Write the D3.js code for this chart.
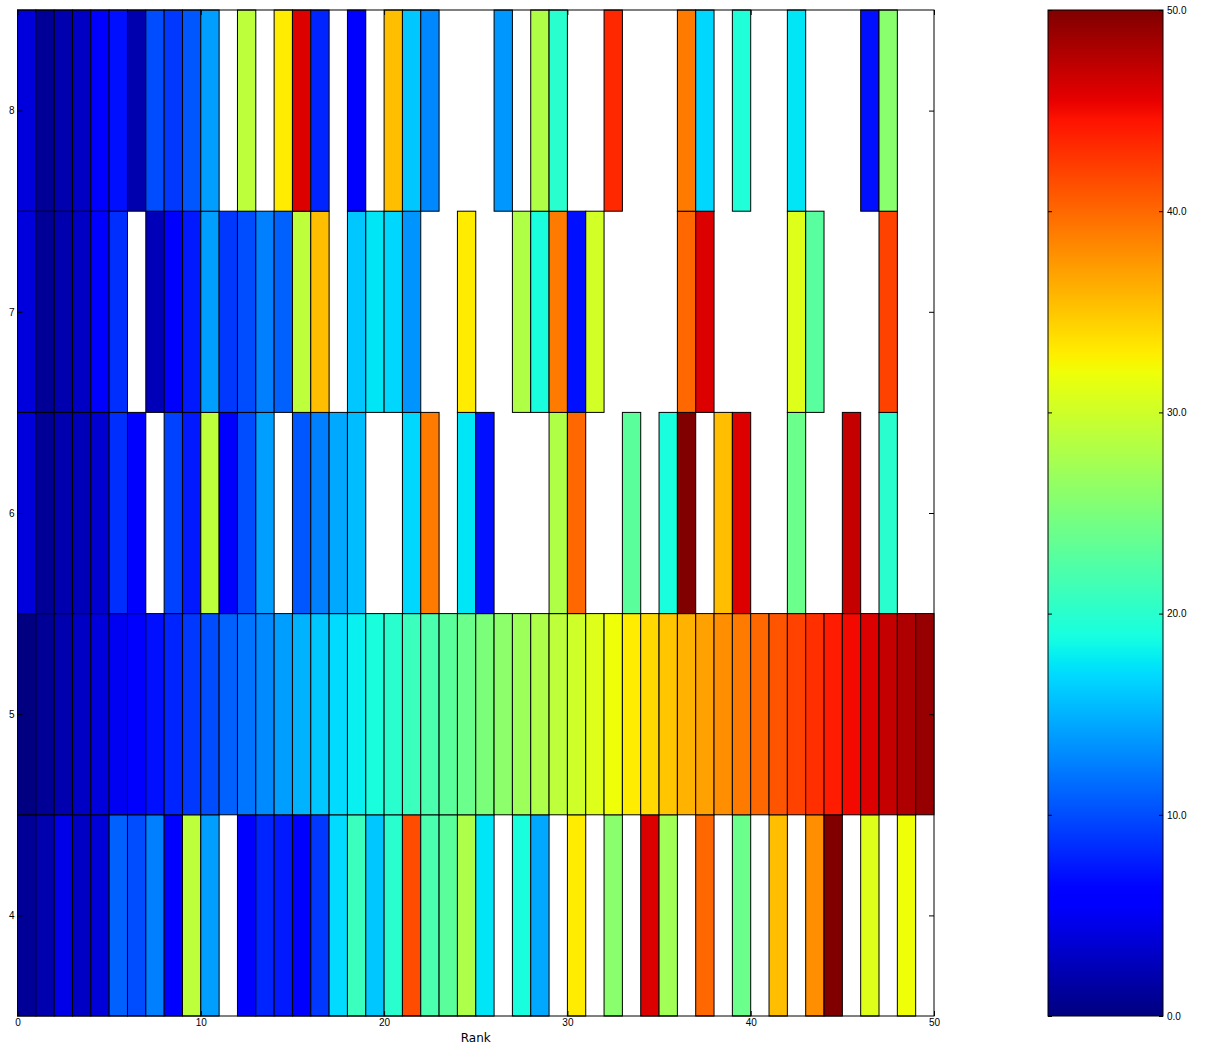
<!DOCTYPE html>
<html>
<head>
<meta charset="utf-8">
<script src="https://cdn.jsdelivr.net/npm/d3@7/dist/d3.min.js"></script>
<style>
  html, body { margin: 0; padding: 0; background: #fff; }
  svg { display: block; font-family: "DejaVu Sans", sans-serif; }
  .axis text { font-size: 10px; fill: #000; }
  .axis path, .axis line { stroke: #000; }
</style>
</head>
<body>
<svg id="chart" width="1208" height="1050"></svg>
<script>
// Rows of the grid (y value of each row) and the number of ranks along x
const rows = [4, 5, 6, 7, 8];
const ranks = d3.range(50);

// Cell values per row; null = no entry (left blank)
const row4 = [1, 2, 4.5, 3, 3.8, 11, 10, 12.5, 6, 29, 14, null, 5.5, 8, 7.5, 6.2, 9, 17, 21, 16,
  20, 41.5, 22, 23, 28, 17.5, null, 19, 14.5, null, 33, null, 25.8, null, 46, 27.3, null, 40, null, 24,
  null, 35.4, null, 38, 50, null, 31, null, 32, null];
const row5 = [0, 1, 2, 3, 4, 5, 6, 7, 8, 9, 10, 11, 12, 13, 14, 15, 16, 17, 18, 19,
  20, 21, 22, 23, 24, 25, 26, 27, 28, 29, 30, 31, 32, 33, 34, 35, 36, 37, 38, 39,
  40, 41, 42, 43, 44, 45, 46, 47, 48, 49];
const row6 = [4, 1, 2, 2.5, 3.5, 8.5, 6, null, 9.5, 7.5, 29, 5.5, 10, 14, null, 10.5, 12.5, 14.5, 15.5, null,
  null, 16.8, 39, null, 17.5, 7, null, null, null, 28.2, 40, null, null, 23, null, 19, 50, null, 35.4, 46,
  null, null, 24, null, null, 47, null, 20, null, null];
const row7 = [4, 1, 2, 3, 6, 8.5, null, 2.5, 5.5, 7.5, 14, 9, 10, 12.5, 11, 29, 35.4, null, 16, 17.5,
  16.8, 13.5, null, null, 33, null, null, 28.2, 19, 39, 7, 30.2, null, null, null, null, 40, 46, null, null,
  null, null, 31, 22.9, null, null, null, 42, null, null];
const row8 = [4, 1, 2, 3, 6, 7, 2, 10, 9, 10.5, 14, null, 29, null, 33, 46, 8, null, 5.5, null,
  35.4, 16, 12.9, null, null, null, 13.7, null, 28.2, 20, null, null, 43.4, null, null, null, 39, 16.8, null, 19.4,
  null, null, 17.5, null, null, null, 7, 25.8, null, null];

const xTicks = [0, 10, 20, 30, 40, 50];
const cbarTicks = [0, 10, 20, 30, 40, 50];
const valueDomain = [0, 50];

const rowValues = [row4, row5, row6, row7, row8];

// Jet colormap (piecewise-linear channels)
const jetR = [[0, 0], [0.35, 0], [0.66, 1], [0.89, 1], [1, 0.5]];
const jetG = [[0, 0], [0.125, 0], [0.375, 1], [0.64, 1], [0.91, 0], [1, 0]];
const jetB = [[0, 0.5], [0.11, 1], [0.34, 1], [0.65, 0], [1, 0]];
function channel(pts, t) {
  for (let i = 1; i < pts.length; i++) {
    if (t <= pts[i][0]) {
      const [t0, v0] = pts[i - 1], [t1, v1] = pts[i];
      return v0 + (v1 - v0) * (t - t0) / (t1 - t0);
    }
  }
  return pts[pts.length - 1][1];
}
function jet(t) {
  t = Math.max(0, Math.min(1, t));
  return d3.rgb(255 * channel(jetR, t), 255 * channel(jetG, t), 255 * channel(jetB, t)).formatHex();
}
const color = d3.scaleSequential(jet).domain(valueDomain);

const svg = d3.select("#chart");
const plot = { left: 17.5, right: 934, top: 10, bottom: 1016 };

const x = d3.scaleLinear().domain([0, 50]).range([plot.left, plot.right]);
const y = d3.scaleLinear().domain([3.5, 8.5]).range([plot.bottom, plot.top]);

// Flatten into cells
const cells = [];
rows.forEach((r, ri) => {
  ranks.forEach(k => {
    const v = rowValues[ri][k];
    if (v !== null) cells.push({ row: r, rank: k, value: v });
  });
});

svg.append("g")
  .selectAll("rect")
  .data(cells)
  .join("rect")
  .attr("x", d => x(d.rank))
  .attr("y", d => y(d.row + 0.5))
  .attr("width", d => x(d.rank + 1) - x(d.rank))
  .attr("height", d => y(d.row - 0.5) - y(d.row + 0.5))
  .attr("fill", d => color(d.value))
  .attr("stroke", "#000")
  .attr("stroke-width", 1);

// Frame
svg.append("rect")
  .attr("x", plot.left).attr("y", plot.top)
  .attr("width", plot.right - plot.left).attr("height", plot.bottom - plot.top)
  .attr("fill", "none").attr("stroke", "#000").attr("stroke-width", 1);

// Axes with inward ticks
svg.append("g").attr("class", "axis")
  .attr("transform", `translate(0,${plot.bottom})`)
  .call(d3.axisBottom(x).tickValues(xTicks).tickSizeInner(-5).tickSizeOuter(0).tickPadding(3).tickFormat(d3.format("d")))
  .call(g => g.select(".domain").remove());
svg.append("g").attr("class", "axis")
  .attr("transform", `translate(0,${plot.top})`)
  .call(d3.axisTop(x).tickValues(xTicks).tickSizeInner(-5).tickSizeOuter(0).tickFormat(""))
  .call(g => g.select(".domain").remove());
svg.append("g").attr("class", "axis")
  .attr("transform", `translate(${plot.left},0)`)
  .call(d3.axisLeft(y).tickValues(rows).tickSizeInner(-5).tickSizeOuter(0).tickPadding(3).tickFormat(d3.format("d")))
  .call(g => g.select(".domain").remove());
svg.append("g").attr("class", "axis")
  .attr("transform", `translate(${plot.right},0)`)
  .call(d3.axisRight(y).tickValues(rows).tickSizeInner(-5).tickSizeOuter(0).tickFormat(""))
  .call(g => g.select(".domain").remove());

svg.append("text")
  .attr("x", (plot.left + plot.right) / 2)
  .attr("y", 1042)
  .attr("text-anchor", "middle")
  .attr("font-size", 12)
  .text("Rank");

// Colorbar
const cb = { left: 1048, right: 1163, top: 10, bottom: 1016 };
const cy = d3.scaleLinear().domain(valueDomain).range([cb.bottom, cb.top]);
const defs = svg.append("defs");
const grad = defs.append("linearGradient")
  .attr("id", "jetGrad").attr("x1", 0).attr("y1", 1).attr("x2", 0).attr("y2", 0);
d3.range(0, 1.0001, 0.01).forEach(t => {
  grad.append("stop").attr("offset", t).attr("stop-color", color(valueDomain[0] + t * (valueDomain[1] - valueDomain[0])));
});
svg.append("rect")
  .attr("x", cb.left).attr("y", cb.top)
  .attr("width", cb.right - cb.left).attr("height", cb.bottom - cb.top)
  .attr("fill", "url(#jetGrad)")
  .attr("stroke", "#000").attr("stroke-width", 1);
svg.append("g").attr("class", "axis")
  .attr("transform", `translate(${cb.right},0)`)
  .call(d3.axisRight(cy).tickValues(cbarTicks).tickSizeInner(-4).tickSizeOuter(0).tickPadding(4).tickFormat(d3.format(".1f")))
  .call(g => g.select(".domain").remove());
svg.append("g").attr("class", "axis")
  .attr("transform", `translate(${cb.left},0)`)
  .call(d3.axisLeft(cy).tickValues(cbarTicks).tickSizeInner(-4).tickSizeOuter(0).tickFormat(""))
  .call(g => g.select(".domain").remove());
</script>
</body>
</html>
